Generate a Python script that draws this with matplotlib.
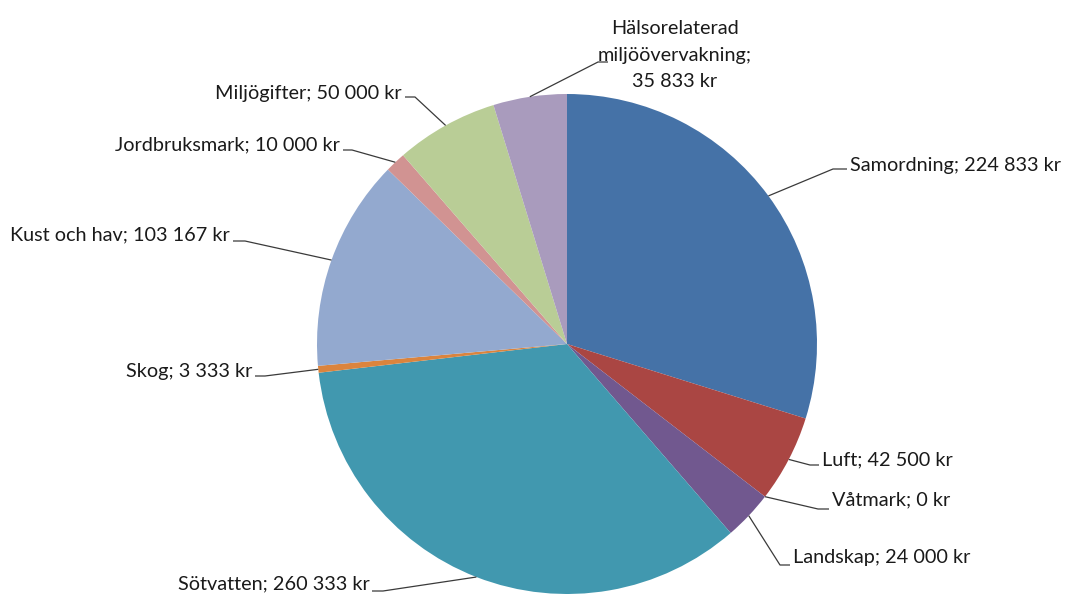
import numpy as np
import matplotlib
matplotlib.use("Agg")
import matplotlib.pyplot as plt

# ---- data ----
categories = ["Samordning", "Luft", "Våtmark", "Landskap", "Sötvatten", "Skog",
              "Kust och hav", "Jordbruksmark", "Miljögifter",
              "Hälsorelaterad miljöövervakning"]
values = [224833, 42500, 0, 24000, 260333, 3333, 103167, 10000, 50000, 35833]
colors = ["#4572A7", "#AA4643", "#89A54E", "#71588F", "#4198AF", "#DB843D",
          "#93A9CF", "#D19392", "#B9CD96", "#A99BBD"]

# ---- layout (pixel coords, y measured from top) ----
W, H = 1065, 594
CX, CY, R = 567, 344, 250
# text x, text y, ha, elbow (x,y), horizontal end x
layout = {
    "Samordning": (850, 166, "left", (833, 169), 847),
    "Luft": (822, 460, "left", (810, 465), 819),
    "Våtmark": (832, 500, "left", (818, 509), 829),
    "Landskap": (793, 557, "left", (780, 565), 790),
    "Sötvatten": (370, 584, "right", (383, 591), 372),
    "Skog": (252, 372, "right", (265, 376), 255),
    "Kust och hav": (230, 235, "right", (245, 241), 233),
    "Jordbruksmark": (340, 145, "right", (352, 150), 343),
    "Miljögifter": (402, 93, "right", (415, 97), 405),
    "Hälsorelaterad miljöövervakning": (675, 55, "center", (598, 62), 608),
}
wrap = {"Hälsorelaterad miljöövervakning": "Hälsorelaterad\nmiljöövervakning;\n"}

plt.rcParams['font.family'] = ['Lato', 'DejaVu Sans']

fig = plt.figure(figsize=(W / 100, H / 100), dpi=100)
ax = fig.add_axes([0, 0, 1, 1])

def fy(y):
    return H - y

wedges, _ = ax.pie(values, colors=colors, startangle=90, counterclock=False,
                   center=(CX, fy(CY)), radius=R, frame=True,
                   wedgeprops=dict(linewidth=0))
ax.set_xlim(0, W)
ax.set_ylim(0, H)
ax.axis("off")

def fmt(v):
    return f"{v:,}".replace(",", " ") + " kr"

for name, val, w in zip(categories, values, wedges):
    tx, ty, ha, (ex, ey), hx = layout[name]
    mid = np.deg2rad((w.theta1 + w.theta2) / 2)
    px = CX + R * np.cos(mid)
    py = fy(CY) + R * np.sin(mid)
    ax.plot([px, ex, hx], [py, fy(ey), fy(ey)], color="#3a3a3a", lw=0.9,
            solid_capstyle="butt")
    if name in wrap:
        label = wrap[name] + fmt(val)
    else:
        label = f"{name}; {fmt(val)}"
    ax.text(tx, fy(ty), label, ha=ha, va="center", fontsize=14.3,
            color="#1a1a1a", linespacing=1.65, multialignment="center")

fig.savefig("out.png", dpi=100)
